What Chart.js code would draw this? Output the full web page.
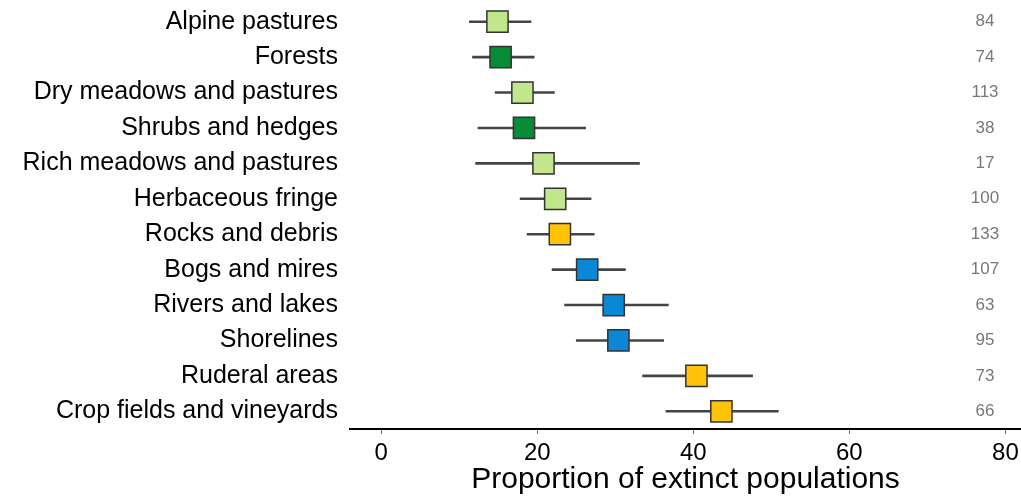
<!DOCTYPE html>
<html>
<head>
<meta charset="utf-8">
<script src="https://cdn.jsdelivr.net/npm/chart.js@4/dist/chart.umd.min.js"></script>
<style>
  body { margin: 0; background: #fff; }
  #wrap { width: 1021px; height: 498px; }
</style>
</head>
<body>
<div id="wrap"><canvas id="forest"></canvas></div>
<script>
const habitats = [
  'Alpine pastures', 'Forests', 'Dry meadows and pastures', 'Shrubs and hedges',
  'Rich meadows and pastures', 'Herbaceous fringe', 'Rocks and debris', 'Bogs and mires',
  'Rivers and lakes', 'Shorelines', 'Ruderal areas', 'Crop fields and vineyards'
];
const extinct = [14.9, 15.3, 18.1, 18.3, 20.8, 22.3, 22.9, 26.4, 29.8, 30.4, 40.4, 43.6];
const lower = [11.3, 11.7, 14.6, 12.4, 12.1, 17.8, 18.7, 21.9, 23.5, 25.0, 33.5, 36.5];
const upper = [19.2, 19.6, 22.2, 26.2, 33.1, 26.9, 27.3, 31.3, 36.8, 36.2, 47.6, 50.9];
const counts = [84, 74, 113, 38, 17, 100, 133, 107, 63, 95, 73, 66];
const groups = ['grass', 'wood', 'grass', 'wood', 'grass', 'grass', 'open', 'wet', 'wet', 'wet', 'open', 'open'];
const xTicks = [0, 20, 40, 60, 80];

const groupColors = { grass: '#c2e68c', wood: '#068c36', open: '#ffc30a', wet: '#0a88d6' };
const FONT = "'Liberation Sans', Arial, sans-serif";

// n per habitat, drawn on the right inside the plot
const countLabels = {
  id: 'countLabels',
  afterDatasetsDraw(chart) {
    const { ctx, chartArea, scales } = chart;
    ctx.save();
    ctx.font = '17px ' + FONT;
    ctx.fillStyle = '#787878';
    ctx.textAlign = 'center';
    ctx.textBaseline = 'middle';
    counts.forEach((n, i) => {
      ctx.fillText(String(n), chartArea.right - 36, scales.y.getPixelForValue(i));
    });
    ctx.restore();
  }
};

const ctx = document.getElementById('forest').getContext('2d');

// eslint-disable-next-line no-unused-vars
const forest = new Chart(ctx, {
  data: {
    labels: habitats,
    datasets: [
      {
        type: 'line',
        data: extinct,
        showLine: false,
        pointStyle: 'rect',
        pointRadius: 15,
        pointHoverRadius: 15,
        pointBackgroundColor: groups.map((g) => groupColors[g]),
        pointBorderColor: '#333',
        pointBorderWidth: 1.5,
        order: 0,
      },
      {
        type: 'bar',
        data: lower.map((lo, i) => [lo, upper[i]]),
        backgroundColor: '#444',
        barThickness: 2,
        order: 1,
      },
    ],
  },
  options: {
    indexAxis: 'y',
    responsive: true,
    maintainAspectRatio: false,
    animation: false,
    layout: { autoPadding: false, padding: { top: 4, right: 0, left: 0, bottom: 0 } },
    plugins: { legend: { display: false }, tooltip: { enabled: false } },
    scales: {
      x: {
        type: 'linear',
        min: -4,
        max: 82,
        afterBuildTicks: (scale) => {
          scale.ticks = xTicks.map((v) => ({ value: v }));
        },
        afterFit: (scale) => {
          scale.height = 69;
          scale.paddingLeft = 0;
          scale.paddingRight = 0;
        },
        grid: { drawOnChartArea: false, tickLength: 5, color: '#666', tickWidth: 1 },
        border: { color: '#000', width: 2 },
        ticks: { color: '#000', font: { family: FONT, size: 24 }, padding: 5 },
        title: {
          display: true,
          text: 'Proportion of extinct populations',
          color: '#000',
          font: { family: FONT, size: 30 },
          padding: { top: 0, bottom: 0 },
        },
      },
      y: {
        type: 'category',
        offset: true,
        grid: { display: false },
        border: { display: false },
        ticks: { color: '#000', font: { family: FONT, size: 25 }, padding: 4 },
        afterFit: (scale) => {
          scale.width = 350;
          scale.paddingTop = 0;
          scale.paddingBottom = 0;
        },
      },
    },
  },
  plugins: [countLabels],
});
</script>
</body>
</html>
